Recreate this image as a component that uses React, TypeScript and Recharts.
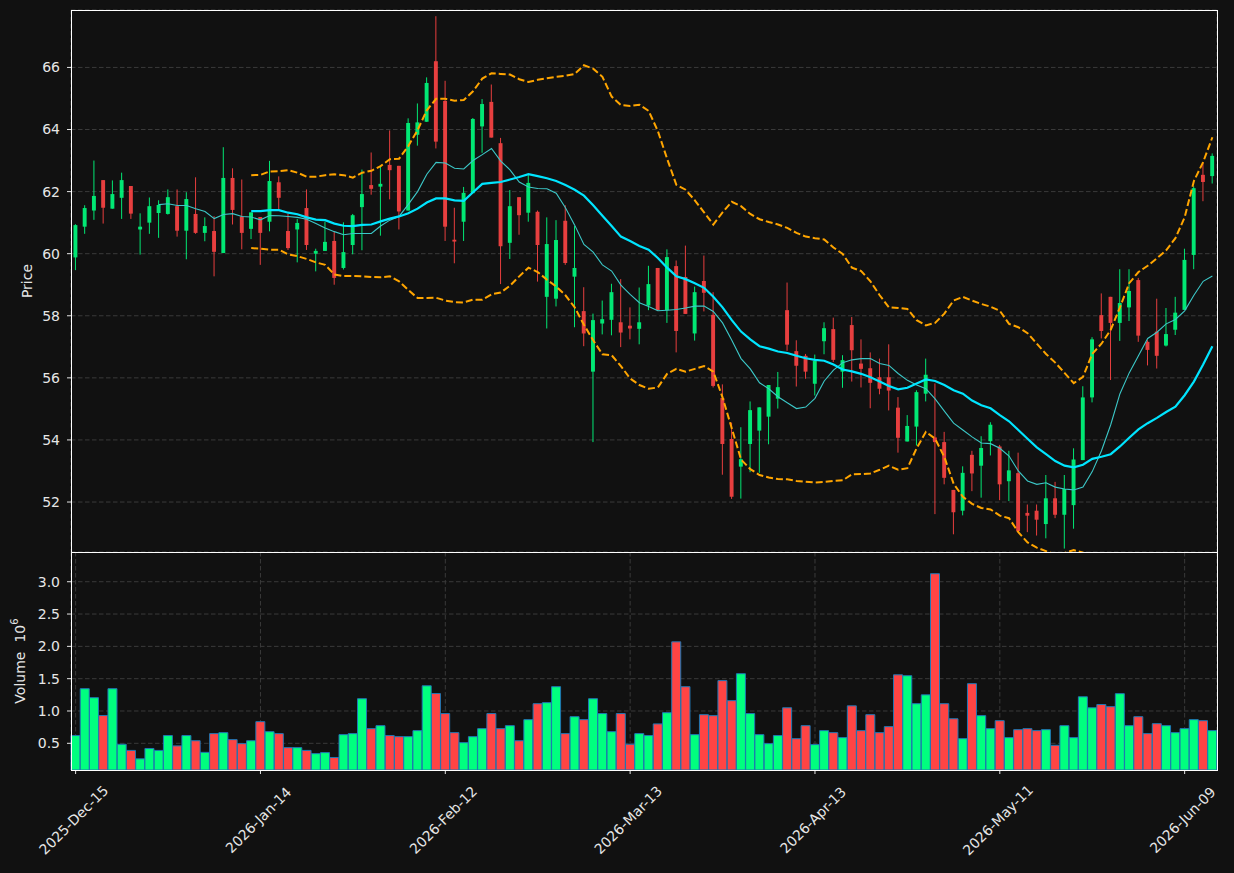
import {
  ComposedChart,
  BarChart,
  Bar,
  Line,
  XAxis,
  YAxis,
  CartesianGrid,
  Cell,
  Label,
} from "recharts";

const UP_COLOR = "#00ff7f";
const DOWN_COLOR = "#ff4444";
const TEXT_COLOR = "#e6e6e6";
const GRID_COLOR = "#3a3a3a";
const FONT = "DejaVu Sans, sans-serif";

// x tick positions (candle index) and their labels
const TICK_IDX = [0, 20, 40, 60, 80, 100, 120];
const TICK_LABELS = [
  "2025-Dec-15",
  "2026-Jan-14",
  "2026-Feb-12",
  "2026-Mar-13",
  "2026-Apr-13",
  "2026-May-11",
  "2026-Jun-09",
];
const PRICE_TICKS = [52, 54, 56, 58, 60, 62, 64, 66];
const VOLUME_TICKS = [0.5, 1.0, 1.5, 2.0, 2.5, 3.0];

const OPEN = [
  59.88, 60.87, 61.39, 62.37, 61.45, 61.8, 62.18, 60.78, 61.0, 61.31,
  61.28, 61.53, 60.74, 61.28, 60.67, 60.73, 60.02, 62.44, 61.2, 60.8,
  61.18, 61.03, 62.3, 60.73, 60.78, 61.47, 60.0, 60.09, 60.41, 59.54,
  60.28, 61.5, 62.21, 62.16, 62.86, 62.83, 61.39, 63.83, 64.25, 66.2,
  64.92, 60.45, 61.03, 61.95, 64.1, 64.89, 63.56, 60.35, 61.82, 61.32,
  61.35, 58.61, 58.55, 61.06, 59.26, 58.15, 56.2, 57.75, 57.87, 57.79,
  57.68, 57.58, 58.33, 59.54, 58.18, 59.6, 59.25, 57.43, 59.12, 58.03,
  55.35, 54.03, 53.14, 53.87, 54.3, 54.75, 55.33, 58.18, 56.86, 56.71,
  55.81, 57.18, 57.57, 56.2, 57.7, 56.46, 56.31, 56.02, 56.02, 55.04,
  53.95, 54.43, 55.49, 54.08, 53.93, 52.39, 51.72, 53.52, 53.17, 53.96,
  53.79, 52.67, 52.93, 51.65, 51.72, 51.29, 52.12, 51.59, 51.9, 53.35,
  55.37, 58.02, 58.61, 57.77, 58.27, 59.15, 57.16, 57.49, 57.04, 57.55,
  58.19, 59.96, 62.54, 62.5,
];

const HIGH = [
  60.95, 61.56, 63.0, 62.37, 62.36, 62.61, 62.18, 61.3, 61.81, 61.72,
  62.07, 62.07, 61.98, 62.46, 61.17, 61.21, 63.43, 62.75, 62.39, 61.33,
  61.18, 62.99, 62.49, 61.28, 61.12, 62.07, 60.16, 61.03, 60.72, 61.01,
  61.28, 62.71, 63.26, 62.83, 63.97, 62.83, 64.36, 64.84, 65.68, 67.65,
  65.57, 61.48, 62.15, 64.37, 64.98, 65.45, 63.73, 62.05, 61.82, 62.53,
  61.39, 61.17, 61.08, 61.56, 60.89, 58.92, 58.07, 58.49, 59.03, 59.18,
  58.27, 58.91, 59.61, 59.54, 60.14, 59.78, 60.26, 58.94, 59.94, 58.76,
  55.79, 54.56, 54.41, 55.24, 55.05, 55.77, 56.19, 59.07, 57.21, 56.77,
  56.75, 57.79, 57.94, 56.73, 57.96, 57.24, 56.82, 56.62, 57.08, 55.38,
  54.8, 55.6, 56.62, 55.82, 54.26, 52.39, 53.15, 53.65, 54.12, 54.57,
  53.84, 53.65, 53.59, 51.92, 51.92, 52.87, 52.65, 52.87, 53.73, 55.73,
  57.31, 58.72, 58.61, 59.5, 59.5, 59.22, 57.21, 58.55, 58.25, 58.61,
  60.16, 62.17, 62.95, 63.23,
];

const LOW = [
  59.47, 60.64, 61.09, 60.97, 61.45, 61.12, 61.12, 59.97, 60.64, 60.51,
  61.26, 60.55, 59.82, 60.64, 60.4, 59.27, 60.02, 60.94, 60.14, 60.47,
  59.64, 60.72, 61.39, 60.12, 59.72, 60.12, 59.43, 60.09, 59.0, 59.49,
  59.98, 60.11, 61.9, 60.58, 61.75, 60.78, 61.39, 63.48, 64.25, 63.39,
  60.41, 59.69, 60.41, 61.95, 63.25, 63.74, 59.02, 59.83, 60.61, 61.03,
  59.1, 57.59, 58.3, 59.64, 57.63, 57.02, 53.93, 57.4, 57.37, 56.99,
  57.24, 57.08, 58.18, 58.18, 57.77, 56.82, 58.06, 57.2, 58.14, 55.69,
  52.88, 52.1, 52.11, 52.96, 52.94, 53.86, 55.01, 56.87, 55.72, 55.97,
  55.43, 56.76, 56.51, 55.68, 55.88, 55.69, 55.02, 55.47, 54.95, 53.59,
  53.95, 53.82, 55.24, 51.61, 52.57, 50.96, 51.57, 52.35, 52.14, 53.5,
  52.06, 52.03, 51.03, 51.03, 50.92, 50.83, 51.48, 50.5, 51.14, 53.35,
  55.21, 57.27, 55.93, 57.19, 57.83, 57.16, 56.4, 56.3, 57.01, 57.38,
  58.19, 59.5, 61.69, 62.26,
];

const CLOSE = [
  60.92, 61.47, 61.86, 61.48, 61.92, 62.37, 61.29, 60.87, 61.53, 61.57,
  61.82, 60.74, 61.76, 60.67, 60.89, 60.06, 62.44, 61.41, 60.67, 61.33,
  60.67, 62.34, 61.8, 60.18, 60.99, 60.28, 60.09, 60.38, 59.22, 60.05,
  61.24, 61.92, 62.09, 62.25, 62.69, 61.36, 64.21, 64.23, 65.5, 63.61,
  60.87, 60.39, 61.96, 64.34, 64.82, 63.74, 60.24, 61.53, 61.24, 62.28,
  60.28, 60.31, 60.44, 59.7, 59.54, 57.43, 57.86, 57.89, 58.76, 57.46,
  57.59, 57.79, 59.02, 58.18, 59.89, 57.51, 58.06, 58.76, 58.74, 55.74,
  53.87, 52.17, 53.38, 54.96, 55.05, 55.77, 55.7, 57.07, 56.39, 56.2,
  56.55, 57.6, 56.58, 56.57, 56.89, 56.29, 55.84, 55.65, 55.59, 54.07,
  54.45, 55.54, 56.1, 53.93, 52.78, 51.67, 52.94, 52.92, 53.74, 54.49,
  52.57, 53.02, 51.06, 51.56, 51.43, 52.12, 51.59, 52.42, 53.37, 55.37,
  57.24, 57.51, 57.77, 58.41, 58.8, 57.36, 56.9, 56.71, 57.41, 58.1,
  59.8, 62.11, 62.31, 63.15,
];

// volume in millions
const VOLUME = [
  0.62, 1.345, 1.206, 0.93, 1.345, 0.485, 0.39, 0.26, 0.42, 0.39,
  0.62, 0.46, 0.62, 0.54, 0.36, 0.65, 0.665, 0.557, 0.495, 0.54,
  0.835, 0.68, 0.65, 0.433, 0.433, 0.39, 0.34, 0.356, 0.28, 0.634,
  0.65, 1.19, 0.727, 0.773, 0.62, 0.603, 0.603, 0.696, 1.39, 1.27,
  0.96, 0.665, 0.51, 0.603, 0.727, 0.96, 0.727, 0.773, 0.54, 0.866,
  1.113, 1.129, 1.376, 0.65, 0.912, 0.866, 1.19, 0.96, 0.68, 0.96,
  0.485, 0.65, 0.62, 0.8, 0.974, 2.07, 1.376, 0.634, 0.943, 0.928,
  1.47, 1.16, 1.577, 0.96, 0.634, 0.495, 0.62, 1.05, 0.572, 0.773,
  0.48, 0.696, 0.665, 0.588, 1.08, 0.696, 0.943, 0.665, 0.758, 1.56,
  1.546, 1.113, 1.25, 3.124, 1.113, 0.88, 0.572, 1.423, 0.928, 0.727,
  0.85, 0.588, 0.711, 0.727, 0.696, 0.711, 0.469, 0.773, 0.588, 1.22,
  1.05, 1.1, 1.067, 1.268, 0.773, 0.912, 0.65, 0.804, 0.773, 0.665,
  0.727, 0.866, 0.85, 0.696,
];

const MA10 = [
  null, null, null, null, null, null, null, null, null, 61.58,
  61.61, 61.55, 61.55, 61.45, 61.36, 61.13, 61.26, 61.29, 61.2, 61.18,
  61.09, 61.23, 61.22, 61.2, 61.17, 61.11, 60.97, 60.83, 60.71, 60.61,
  60.65, 60.65, 60.65, 60.89, 61.08, 61.2, 61.59, 62.0, 62.56, 62.94,
  62.92, 62.75, 62.73, 63.0, 63.19, 63.39, 62.98, 62.7, 62.31, 62.15,
  62.1, 62.09, 61.95, 61.48, 60.92, 60.3, 60.05, 59.64, 59.44, 58.99,
  58.69, 58.42, 58.3, 58.16, 58.18, 58.2, 58.25, 58.31, 58.31, 58.14,
  57.77, 57.21, 56.62, 56.29, 55.84, 55.65, 55.39, 55.2, 55.01, 55.06,
  55.34, 55.9, 56.25, 56.49, 56.58, 56.62, 56.62, 56.46, 56.4, 56.14,
  55.92, 55.77, 55.65, 55.32, 54.93, 54.54, 54.32, 54.1, 53.9, 53.88,
  53.73, 53.48, 53.0, 52.68, 52.57, 52.62, 52.48, 52.42, 52.39, 52.48,
  52.98, 53.65, 54.49, 55.49, 56.16, 56.71, 57.27, 57.47, 57.74, 57.88,
  58.16, 58.66, 59.11, 59.28,
];

const MA20 = [
  null, null, null, null, null, null, null, null, null, null,
  null, null, null, null, null, null, null, null, null, 61.37,
  61.37, 61.4, 61.4, 61.32, 61.27, 61.17, 61.1, 61.08, 60.97, 60.9,
  60.89, 60.93, 60.94, 61.04, 61.13, 61.2, 61.3, 61.45, 61.65, 61.78,
  61.78, 61.72, 61.7, 61.98, 62.25, 62.28, 62.31, 62.39, 62.47, 62.56,
  62.5, 62.43, 62.34, 62.21, 62.06, 61.87, 61.56, 61.22, 60.89, 60.55,
  60.41, 60.25, 60.13, 59.86, 59.55, 59.27, 59.18, 59.05, 58.9, 58.61,
  58.27, 57.86, 57.49, 57.24, 57.02, 56.94, 56.85, 56.8, 56.71, 56.63,
  56.58, 56.55, 56.43, 56.27, 56.21, 56.13, 56.02, 55.88, 55.74, 55.63,
  55.68, 55.82, 55.95, 55.9, 55.77, 55.6, 55.49, 55.27, 55.12, 55.02,
  54.8, 54.6, 54.32, 54.04, 53.76, 53.54, 53.32, 53.17, 53.12, 53.2,
  53.39, 53.46, 53.54, 53.79, 54.07, 54.34, 54.54, 54.71, 54.9, 55.07,
  55.44, 55.88, 56.43, 57.02,
];

const BB_UPPER = [
  null, null, null, null, null, null, null, null, null, null,
  null, null, null, null, null, null, null, null, null, 62.53,
  62.54, 62.65, 62.66, 62.69, 62.61, 62.48, 62.48, 62.53, 62.56, 62.53,
  62.45, 62.61, 62.67, 62.82, 63.04, 63.06, 63.47, 63.98, 64.62, 64.99,
  64.99, 64.93, 64.95, 65.23, 65.64, 65.81, 65.79, 65.77, 65.62, 65.53,
  65.6, 65.65, 65.7, 65.73, 65.79, 66.07, 65.96, 65.7, 65.06, 64.79,
  64.76, 64.8, 64.6, 63.95, 63.06, 62.22, 62.06, 61.72, 61.33, 60.94,
  61.33, 61.67, 61.53, 61.28, 61.11, 61.02, 60.94, 60.83, 60.67, 60.55,
  60.5, 60.46, 60.2, 59.99, 59.55, 59.44, 59.11, 58.66, 58.27, 58.25,
  58.22, 57.86, 57.69, 57.77, 58.07, 58.49, 58.61, 58.49, 58.38, 58.29,
  58.16, 57.74, 57.63, 57.44, 57.1, 56.77, 56.49, 56.16, 55.83, 56.03,
  56.77, 57.1, 57.55, 58.27, 59.05, 59.41, 59.61, 59.85, 60.11, 60.5,
  61.17, 62.34, 62.95, 63.75,
];

const BB_LOWER = [
  null, null, null, null, null, null, null, null, null, null,
  null, null, null, null, null, null, null, null, null, 60.18,
  60.16, 60.13, 60.13, 59.98, 59.92, 59.83, 59.72, 59.64, 59.33, 59.28,
  59.28, 59.27, 59.25, 59.24, 59.27, 59.11, 58.83, 58.57, 58.57, 58.58,
  58.49, 58.44, 58.43, 58.52, 58.52, 58.69, 58.75, 58.97, 59.27, 59.55,
  59.41, 59.16, 58.94, 58.66, 58.27, 57.71, 57.21, 56.76, 56.73, 56.38,
  55.98, 55.77, 55.65, 55.69, 56.13, 56.29, 56.2, 56.29, 56.38, 56.2,
  55.37, 54.37, 53.37, 53.06, 52.87, 52.79, 52.74, 52.73, 52.68, 52.65,
  52.63, 52.65, 52.68, 52.7, 52.89, 52.9, 52.92, 53.04, 53.17, 53.04,
  53.09, 53.73, 54.26, 54.04, 53.45, 52.59, 52.17, 51.94, 51.81, 51.76,
  51.56, 51.48, 51.03, 50.7, 50.53, 50.42, 50.31, 50.36, 50.45, 50.37,
  50.01, 49.82, 49.53, 49.31, 49.09, 49.27, 49.47, 49.57, 49.69, 49.64,
  49.71, 49.42, 49.91, 50.29,
];

const data = OPEN.map((open, i) => ({
  i,
  open,
  high: HIGH[i],
  low: LOW[i],
  close: CLOSE[i],
  volume: VOLUME[i],
  ma10: MA10[i],
  ma20: MA20[i],
  bbUpper: BB_UPPER[i],
  bbLower: BB_LOWER[i],
}));

function Candle(props: any) {
  const { x, y, width, height, payload } = props;
  if (!payload || height == null) return null;
  const { open, close, high, low } = payload;
  const color = close >= open ? UP_COLOR : DOWN_COLOR;
  const top = Math.min(y, y + height);
  const h = Math.abs(height);
  const perUnit = h / (high - low || 1);
  const yOf = (v: number) => top + (high - v) * perUnit;
  const cx = x + width / 2;
  const bodyTop = yOf(Math.max(open, close));
  const bodyBottom = yOf(Math.min(open, close));
  const bw = width * 0.56;
  return (
    <g opacity={0.9}>
      <line x1={cx} x2={cx} y1={top} y2={top + h} stroke={color} strokeWidth={1} />
      <rect
        x={cx - bw / 2}
        y={bodyTop}
        width={bw}
        height={Math.max(1, bodyBottom - bodyTop)}
        fill={color}
      />
    </g>
  );
}

function DateTick(props: any) {
  const { x, y, payload } = props;
  const label = TICK_LABELS[TICK_IDX.indexOf(payload.value)] ?? "";
  const cx = x - 2;
  const cy = y + 44;
  return (
    <text
      x={cx}
      y={cy}
      transform={`rotate(-45 ${cx} ${cy})`}
      textAnchor="middle"
      dominantBaseline="central"
      fill={TEXT_COLOR}
      fontSize={14}
      fontFamily={FONT}
    >
      {label}
    </text>
  );
}

function PriceLabel(props: any) {
  const vb = props.viewBox ?? { x: 0, y: 10, width: 71, height: 542 };
  const cx = vb.x + 27;
  const cy = vb.y + vb.height / 2;
  return (
    <text
      x={cx}
      y={cy}
      transform={`rotate(-90 ${cx} ${cy})`}
      textAnchor="middle"
      dominantBaseline="central"
      fill={TEXT_COLOR}
      fontSize={14}
      fontFamily={FONT}
    >
      Price
    </text>
  );
}

function VolumeLabel(props: any) {
  const vb = props.viewBox ?? { x: 0, y: 552, width: 71, height: 218 };
  const cx = vb.x + 20;
  const cy = vb.y + vb.height / 2;
  return (
    <text
      x={cx}
      y={cy}
      transform={`rotate(-90 ${cx} ${cy})`}
      textAnchor="middle"
      dominantBaseline="central"
      fill={TEXT_COLOR}
      fontSize={14}
      fontFamily={FONT}
    >
      <tspan>Volume</tspan>
      <tspan dx={9}>10</tspan>
      <tspan dy={-6} fontSize={10}>6</tspan>
    </text>
  );
}

const axisTick = { fill: TEXT_COLOR, fontSize: 14, fontFamily: FONT };

export default function App() {
  return (
    <div
      style={{
        position: "absolute",
        left: 0,
        top: 0,
        width: 1234,
        height: 873,
        background: "#111111",
        overflow: "hidden",
        fontFamily: FONT,
      }}
    >
      <div style={{ position: "absolute", left: 0, top: 0 }}>
        <ComposedChart
          width={1234}
          height={552}
          data={data}
          margin={{ top: 10, right: 17, bottom: 0, left: 0 }}
        >
          <CartesianGrid stroke={GRID_COLOR} strokeDasharray="4.5 2.5" />
          <XAxis
            dataKey="i"
            type="category"
            ticks={TICK_IDX}
            interval={0}
            height={0}
            tick={false}
            tickLine={false}
            axisLine={false}
          />
          <YAxis
            type="number"
            domain={[50.39, 67.85]}
            allowDataOverflow
            ticks={PRICE_TICKS}
            width={71}
            tick={axisTick}
            tickSize={4}
            tickMargin={7}
            tickLine={{ stroke: TEXT_COLOR }}
            axisLine={false}
            label={<Label content={PriceLabel} />}
          />
          <Bar
            dataKey={(d: any) => [d.low, d.high]}
            barCategoryGap={0}
            shape={(p: any) => <Candle {...p} />}
            isAnimationActive={false}
          />
          <Line
            type="linear"
            dataKey="bbUpper"
            stroke="#ffa500"
            strokeWidth={2}
            strokeDasharray="7 3"
            dot={false}
            activeDot={false}
            isAnimationActive={false}
          />
          <Line
            type="linear"
            dataKey="bbLower"
            stroke="#ffa500"
            strokeWidth={2}
            strokeDasharray="7 3"
            dot={false}
            activeDot={false}
            isAnimationActive={false}
          />
          <Line
            type="linear"
            dataKey="ma10"
            stroke="#3cc8c8"
            strokeWidth={1.1}
            dot={false}
            activeDot={false}
            isAnimationActive={false}
          />
          <Line
            type="linear"
            dataKey="ma20"
            stroke="#00e5ff"
            strokeWidth={2.2}
            dot={false}
            activeDot={false}
            isAnimationActive={false}
          />
        </ComposedChart>
      </div>

      <div style={{ position: "absolute", left: 0, top: 552 }}>
        <BarChart
          width={1234}
          height={321}
          data={data}
          barCategoryGap={0}
          margin={{ top: 0, right: 17, bottom: 0, left: 0 }}
        >
          <CartesianGrid stroke={GRID_COLOR} strokeDasharray="4.5 2.5" />
          <XAxis
            dataKey="i"
            type="category"
            ticks={TICK_IDX}
            interval={0}
            height={103}
            tick={<DateTick />}
            tickSize={4}
            tickLine={{ stroke: TEXT_COLOR }}
            axisLine={false}
          />
          <YAxis
            type="number"
            domain={[0.087, 3.46]}
            allowDataOverflow
            ticks={VOLUME_TICKS}
            width={71}
            tick={axisTick}
            tickSize={4}
            tickMargin={7}
            tickLine={{ stroke: TEXT_COLOR }}
            tickFormatter={(v: number) => v.toFixed(1)}
            axisLine={false}
            label={<Label content={VolumeLabel} />}
          />
          <Bar dataKey="volume" stroke="#1f77b4" strokeWidth={1} isAnimationActive={false}>
            {data.map((d) => (
              <Cell key={d.i} fill={d.close >= d.open ? UP_COLOR : DOWN_COLOR} />
            ))}
          </Bar>
        </BarChart>
      </div>

      {/* panel frames */}
      <div
        style={{
          position: "absolute",
          left: 71,
          top: 10,
          width: 1147,
          height: 543,
          boxSizing: "border-box",
          border: "1px solid #ffffff",
          pointerEvents: "none",
        }}
      />
      <div
        style={{
          position: "absolute",
          left: 71,
          top: 552,
          width: 1147,
          height: 219,
          boxSizing: "border-box",
          border: "1px solid #ffffff",
          pointerEvents: "none",
        }}
      />
    </div>
  );
}
